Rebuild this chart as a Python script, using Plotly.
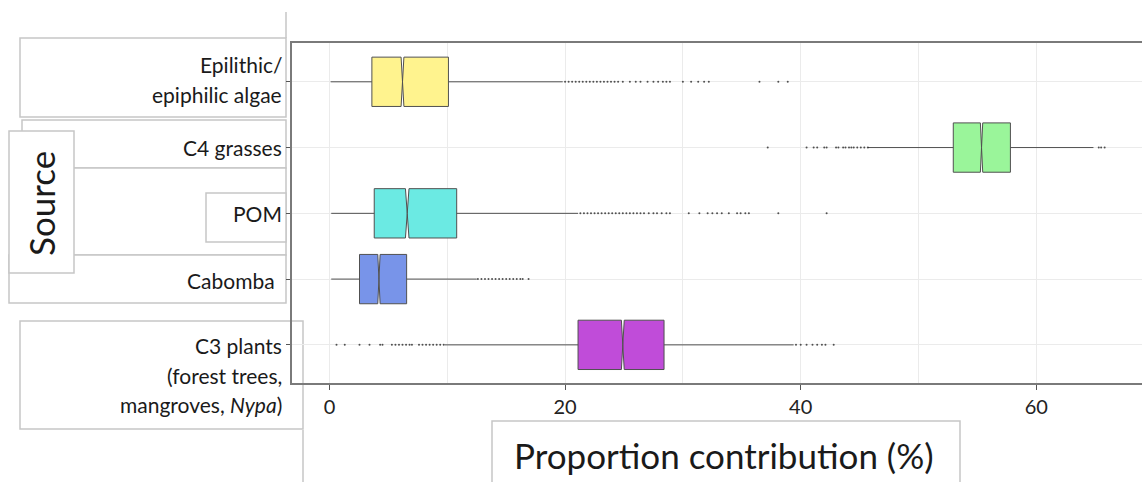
import plotly.graph_objects as go

W, H = 1142, 482

# ---- data ----
sources = ["C3 plants", "Cabomba", "POM", "C4 grasses", "Epilithic"]
q1 = [21.1, 2.55, 3.8, 52.95, 3.6]
median = [24.9, 4.2, 6.6, 55.35, 6.2]
q3 = [28.4, 6.55, 10.8, 57.8, 10.1]
lowerfence = [9.8, 0.15, 0.15, 45.7, 0.1]
upperfence = [39.4, 12.5, 21.1, 64.85, 19.8]
notchspan = [0.12, 0.1, 0.15, 0.1, 0.12]
colors = ["#C04CD9", "#7894E9", "#6BEAE3", "#9AF59A", "#FFF38E"]

out_c3 = [0.6, 1.3, 2.55, 3.4, 4.3, 4.5, 5.3, 5.6, 5.9, 6.2, 6.5, 6.8, 7.0,
          7.6, 7.9, 8.2, 8.5, 8.8, 9.1, 9.4, 9.7,
          39.6, 40.0, 40.5, 41.0, 41.4, 41.8, 42.1, 42.8]
out_cabomba = [12.6, 12.9, 13.2, 13.5, 13.8, 14.1, 14.4, 14.7, 15.0, 15.3,
               15.6, 15.9, 16.2, 16.4, 16.9]
out_pom = [21.3, 21.6, 21.9, 22.2, 22.5, 22.8, 23.1, 23.4, 23.7, 24.0, 24.3,
           24.6, 24.9, 25.2, 25.5, 25.8, 26.1, 26.4, 26.7, 27.1, 27.5, 27.8,
           28.2, 28.6, 28.9, 30.5, 31.4, 32.1, 32.5, 32.9, 33.3, 33.9, 34.6,
           34.9, 35.3, 35.6, 38.1, 42.2]
out_c4 = [37.2, 40.5, 41.1, 41.4, 42.0, 42.2, 43.0, 43.2, 43.6, 43.8, 44.1,
          44.3, 44.5, 44.8, 45.1, 45.4, 45.7, 65.3, 65.5, 65.8]
out_epi = [20.0, 20.3, 20.6, 20.9, 21.2, 21.5, 21.8, 22.1, 22.4, 22.7, 23.0,
           23.3, 23.6, 23.9, 24.2, 24.5, 24.9, 25.5, 26.0, 26.4, 27.0, 27.5,
           27.9, 28.3, 28.6, 28.9, 30.0, 30.7, 31.3, 31.8, 32.2, 36.5, 38.1,
           38.9]
outliers = [out_c3, out_cabomba, out_pom, out_c4, out_epi]

xticks = [0, 20, 40, 60]
xminor = [10, 30, 50]

fig = go.Figure()

for i, s in enumerate(sources):
    fig.add_trace(go.Box(
        orientation="h", y=[s], q1=[q1[i]], median=[median[i]], q3=[q3[i]],
        lowerfence=[lowerfence[i]], upperfence=[upperfence[i]],
        notched=True, notchspan=[notchspan[i]], notchwidth=0.5,
        boxpoints=False, width=0.75, whiskerwidth=0,
        fillcolor=colors[i], line=dict(color="#505050", width=1),
        showlegend=False, hoverinfo="skip"))
    fig.add_trace(go.Scatter(
        x=outliers[i], y=[s] * len(outliers[i]), mode="markers",
        marker=dict(size=2, color="rgba(40,40,40,0.8)"),
        showlegend=False, hoverinfo="skip"))

def X(px):
    return px / W

def Y(py):
    return 1 - py / H

FONT = "Lato"
BOXLINE = dict(color="#C6C6C6", width=1.5)

shapes = []
def rect(x0, y0, x1, y1):
    shapes.append(dict(type="rect", xref="paper", yref="paper",
                       x0=X(x0), x1=X(x1), y0=Y(y1), y1=Y(y0),
                       line=BOXLINE, fillcolor="white", layer="below"))

def vline(x, y0, y1):
    shapes.append(dict(type="line", xref="paper", yref="paper",
                       x0=X(x), x1=X(x), y0=Y(y0), y1=Y(y1),
                       line=BOXLINE, layer="below"))

vline(286, 12, 38)
rect(20, 38, 286, 117)      # Epilithic
rect(22, 120, 286, 168)     # C4 grasses
rect(22, 168, 286, 255)     # middle
rect(206, 193, 286, 242)    # POM
rect(9, 255, 286, 303)      # Cabomba
rect(20, 321, 303, 429)     # C3 plants
rect(9, 131, 74, 273)       # Source
rect(492, 421, 960, 495)    # x title
vline(303, 430, 482)

ann = []
def label(text, x, y, size=21, xanchor="right", **kw):
    ann.append(dict(text=text, xref="paper", yref="paper", x=X(x), y=Y(y),
                    xanchor=xanchor, yanchor="middle", showarrow=False,
                    font=dict(family=FONT, size=size, color="#1a1a1a"), **kw))

label("Epilithic/", 284, 65)
label("epiphilic algae", 284, 95)
label("C4 grasses", 284, 147)
label("POM", 284, 213)
label("Cabomba", 277, 280)
label("C3 plants", 284, 345)
label("(forest trees,", 284, 375)
label("mangroves, <i>Nypa</i>)", 284, 404)
label("Source", 41, 203, size=35, xanchor="center", textangle=-90)
label("Proportion contribution (%)", 724, 455, size=35, xanchor="center")

fig.update_layout(
    width=W, height=H, template="none",
    margin=dict(l=0, r=0, t=0, b=0),
    paper_bgcolor="white", plot_bgcolor="rgba(0,0,0,0)",
    shapes=shapes, annotations=ann,
    xaxis=dict(domain=[292 / W, 1], range=[-3.18, 68.97],
               tickvals=xticks, ticktext=[str(v) for v in xticks],
               ticks="outside", ticklen=5, tickcolor="#555555",
               tickfont=dict(family=FONT, size=20, color="#222222"),
               showgrid=True, gridcolor="#EBEBEB", gridwidth=1,
               minor=dict(tickvals=xminor, showgrid=True, gridcolor="#EBEBEB",
                          ticklen=0),
               showline=True, mirror=True, linecolor="#7A7A7A", linewidth=1.5,
               zeroline=False, automargin=False),
    yaxis=dict(domain=[1 - 383 / H, 1 - 43 / H], range=[-0.58, 4.59],
               type="category", categoryorder="array", categoryarray=sources,
               showticklabels=False, ticks="outside", ticklen=4,
               tickcolor="#555555", showgrid=True, gridcolor="#EBEBEB",
               showline=True, linecolor="#7A7A7A", linewidth=1.5,
               zeroline=False, automargin=False),
)

fig.write_html("out.html")
